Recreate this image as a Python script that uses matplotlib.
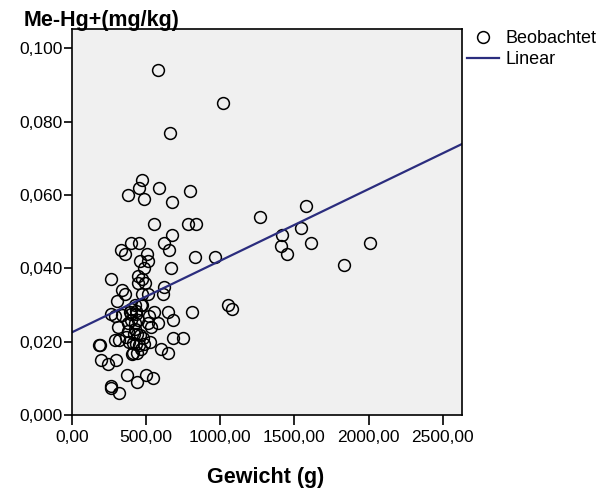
import matplotlib
matplotlib.use('Agg')
import matplotlib.pyplot as plt
from matplotlib.ticker import FuncFormatter
import numpy as np

plt.rcParams['font.family'] = ['Liberation Sans', 'DejaVu Sans']

# weight (g) and Me-Hg+ (mg/kg)
gewicht = [577, 1020, 660, 469, 450, 381, 488, 586, 795, 671,
           1268, 1575, 550, 780, 836, 1543, 1415, 1410, 1450, 1613,
           2010, 1831, 671, 620, 656, 397, 453, 329, 356, 507,
           457, 514, 829, 964, 486, 665, 262, 446, 469, 491,
           446, 620, 615, 334, 356, 469, 514, 304, 1054, 1077,
           464, 266, 289, 334, 390, 430, 475, 520, 552, 649,
           678, 807, 401, 446, 378, 424, 514, 577, 307, 378,
           424, 367, 457, 480, 320, 293, 412, 451, 525, 678,
           746, 183, 190, 440, 412, 464, 599, 645, 198, 243,
           300, 374, 439, 496, 543, 262, 265, 320, 405, 385,
           430, 485, 420, 440, 400, 425, 395, 430, 530]
mehg = [0.094, 0.085, 0.077, 0.064, 0.062, 0.060, 0.059, 0.062, 0.061, 0.058,
        0.054, 0.057, 0.052, 0.052, 0.052, 0.051, 0.049, 0.046, 0.044, 0.047,
        0.047, 0.041, 0.049, 0.047, 0.045, 0.047, 0.047, 0.045, 0.044, 0.044,
        0.042, 0.042, 0.043, 0.043, 0.040, 0.040, 0.037, 0.038, 0.037, 0.036,
        0.036, 0.035, 0.033, 0.034, 0.033, 0.033, 0.033, 0.031, 0.030, 0.029,
        0.030, 0.0276, 0.027, 0.0273, 0.028, 0.0275, 0.030, 0.027, 0.028, 0.028,
        0.026, 0.028, 0.026, 0.026, 0.025, 0.025, 0.025, 0.025, 0.024, 0.023,
        0.0235, 0.0214, 0.0218, 0.021, 0.0205, 0.0205, 0.0197, 0.019, 0.020, 0.021,
        0.021, 0.019, 0.019, 0.017, 0.0168, 0.018, 0.018, 0.017, 0.015, 0.014,
        0.015, 0.011, 0.009, 0.011, 0.010, 0.008, 0.0073, 0.006, 0.0166, 0.020,
        0.0195, 0.0195, 0.022, 0.022, 0.029, 0.030, 0.0275, 0.0285, 0.024]

# fitted line
intercept = 0.02256
slope = 1.953e-5
x_range = [0, 2630]

fig = plt.figure(figsize=(6.06, 4.91), dpi=100)
ax = fig.add_axes([0.1188, 0.1548, 0.6436, 0.7855])
ax.set_facecolor('#F0F0F0')

sc, = ax.plot(gewicht, mehg, linestyle='none', marker='o', markersize=8.5,
              markerfacecolor='none', markeredgecolor='black', markeredgewidth=1.1,
              label='Beobachtet')
xl = np.array(x_range)
ln, = ax.plot(xl, intercept + slope * xl, color='#2B2D7E', linewidth=1.6, label='Linear')

ax.set_xlim(x_range)
ax.set_ylim(0, 0.1052)
ax.set_xticks([0, 500, 1000, 1500, 2000, 2500])
ax.set_yticks([0, 0.02, 0.04, 0.06, 0.08, 0.1])
ax.xaxis.set_major_formatter(FuncFormatter(lambda v, p: f'{v:.2f}'.replace('.', ',')))
ax.yaxis.set_major_formatter(FuncFormatter(lambda v, p: f'{v:.3f}'.replace('.', ',')))
ax.tick_params(direction='out', width=1.2, labelsize=12.5, colors='black')
ax.tick_params(axis='x', length=7, pad=4)
ax.tick_params(axis='y', length=5.5, pad=1)
for s in ax.spines.values():
    s.set_linewidth(1.2)

fig.text(266 / 606, 1 - 482.5 / 491, 'Gewicht (g)', fontsize=15.5, fontweight='bold',
         ha='center', va='baseline')
fig.text(24 / 606, 1 - 26 / 491, 'Me-Hg+(mg/kg)', fontsize=15.5, fontweight='bold',
         ha='left', va='baseline')

fig.legend(handles=[sc, ln], loc='upper left', bbox_to_anchor=(467 / 606, 1 - 30 / 491),
           frameon=False, fontsize=13, handlelength=1.78, handletextpad=0.33,
           labelspacing=0.22, borderpad=0, borderaxespad=0)

fig.savefig('out.png', dpi=100)
